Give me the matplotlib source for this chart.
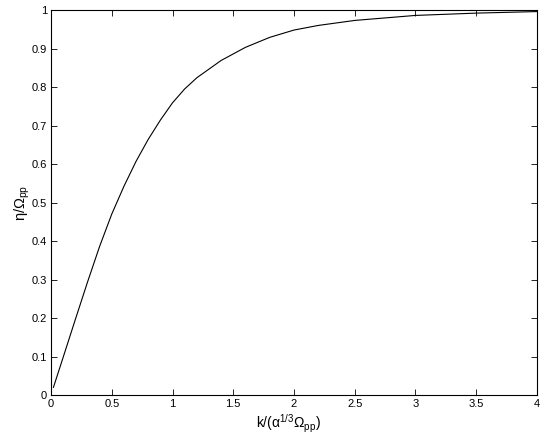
import matplotlib
matplotlib.use("Agg")
import matplotlib.pyplot as plt

plt.rcParams['font.family'] = ['Liberation Sans', 'DejaVu Sans']
plt.rcParams['mathtext.fontset'] = 'custom'
plt.rcParams['mathtext.rm'] = 'Liberation Sans'
plt.rcParams['mathtext.it'] = 'Liberation Sans'
plt.rcParams['mathtext.default'] = 'regular'

# curve
k = [0.02, 0.1, 0.2, 0.3, 0.4, 0.5, 0.6, 0.7, 0.8, 0.9, 1.0, 1.1, 1.2,
     1.4, 1.6, 1.8, 2.0, 2.2, 2.5, 3.0, 3.5, 4.0]
eta = [0.02, 0.098, 0.196, 0.293, 0.386, 0.47, 0.542, 0.607, 0.664, 0.714, 0.759,
       0.795, 0.824, 0.869, 0.903, 0.929, 0.948, 0.96, 0.973, 0.986, 0.992, 0.996]

xticks = [0, 0.5, 1, 1.5, 2, 2.5, 3, 3.5, 4]
yticks = [0, 0.1, 0.2, 0.3, 0.4, 0.5, 0.6, 0.7, 0.8, 0.9, 1]

fig = plt.figure(figsize=(5.45, 4.42), dpi=100)
ax = fig.add_axes([0.0936, 0.1063, 0.8917, 0.871])
ax.plot(k, eta, color='black', linewidth=0.8)

ax.set_xlim(0, 4)
ax.set_ylim(0, 1)
ax.set_xticks(xticks)
ax.set_yticks(yticks)
ax.set_xticklabels([f'{t:g}' for t in xticks])
ax.set_yticklabels([f'{t:g}' for t in yticks])
ax.tick_params(direction='in', length=4, width=0.6, labelsize=8,
               top=True, right=True, pad=3)
for s in ax.spines.values():
    s.set_linewidth(0.8)

ax.set_xlabel(r'k/($\alpha^{1/3}\Omega_{pp}$)', fontsize=10)
ax.xaxis.set_label_coords(0.488, -0.045, transform=ax.transAxes)
ax.xaxis.label.set_va('top')
ax.set_ylabel(r'$\eta/\Omega_{pp}$', fontsize=10.5)
ax.yaxis.set_label_coords(-0.06, 0.5, transform=ax.transAxes)
ax.yaxis.label.set_va('center')

fig.savefig('out.png', dpi=100)
